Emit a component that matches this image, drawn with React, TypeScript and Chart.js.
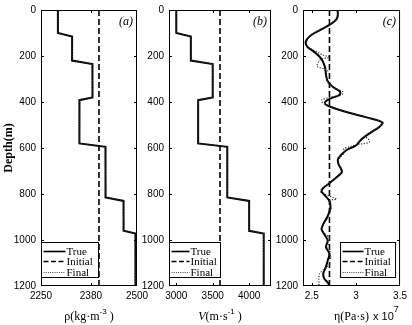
import React, { useEffect, useRef } from "react";
import { Chart, registerables } from "chart.js";

Chart.register(...registerables);

const W = 412;
const H = 325;

const SERIF = '"Liberation Serif", "Times New Roman", serif';
const SANS = '"Liberation Sans", Arial, sans-serif';

// ---------- data ----------
const depthTicks = [0, 200, 400, 600, 800, 1000, 1200];
const seriesNames = ["True", "Initial", "Final"];

// layered (step) models, depth in m
const stepDepths = [0, 100, 115, 220, 235, 380, 392, 580, 595, 815, 830, 960, 972, 1200];
const rhoTrue = [2294, 2294, 2331, 2331, 2384, 2384, 2350, 2350, 2418, 2418, 2465, 2465, 2496, 2496];
const rhoFinal = [2293, 2294, 2330, 2332, 2383, 2385, 2351, 2350, 2417, 2419, 2464, 2466, 2495, 2496];
const rhoInitial = 2401;
const rhoTicks = [2250, 2380, 2500];

const velTrue = [3000, 3000, 3200, 3200, 3500, 3500, 3300, 3300, 3700, 3700, 4000, 4000, 4200, 4200];
const velFinal = [2998, 3001, 3199, 3202, 3498, 3502, 3301, 3300, 3698, 3702, 3998, 4002, 4198, 4201];
const velInitial = 3600;
const velTicks = [3000, 3500, 4000];

// viscosity (x 10^7 Pa·s)
const etaDepths = [0, 20, 40, 60, 80, 100, 120, 140, 160, 180, 200, 220, 250, 280, 310, 335, 355, 370, 385, 400, 412, 425, 446, 467, 489, 510, 530, 560, 589, 610, 646, 667, 690, 705, 724, 753, 774, 789, 803, 831, 860, 896, 931, 953, 974, 1003, 1031, 1060, 1089, 1117, 1146, 1167, 1185, 1200];
const etaTrue = [2.79, 2.795, 2.78, 2.72, 2.63, 2.53, 2.46, 2.43, 2.45, 2.52, 2.58, 2.62, 2.65, 2.66, 2.68, 2.74, 2.82, 2.81, 2.71, 2.65, 2.66, 2.74, 2.91, 3.12, 3.3, 3.26, 3.18, 3.07, 3.0, 2.89, 2.8, 2.8, 2.83, 2.84, 2.79, 2.7, 2.63, 2.61, 2.64, 2.7, 2.71, 2.68, 2.63, 2.61, 2.64, 2.68, 2.66, 2.7, 2.68, 2.66, 2.63, 2.64, 2.68, 2.7];
const etaFinalDepths = [0, 20, 40, 60, 80, 100, 115, 140, 160, 180, 195, 205, 215, 230, 245, 255, 265, 280, 300, 320, 340, 355, 368, 380, 392, 402, 412, 425, 446, 467, 489, 510, 530, 550, 560, 575, 585, 595, 605, 620, 646, 667, 690, 705, 724, 753, 774, 790, 803, 815, 822, 830, 860, 880, 896, 915, 931, 953, 974, 990, 1003, 1020, 1031, 1045, 1060, 1075, 1089, 1105, 1117, 1130, 1146, 1165, 1185, 1200];
const etaFinal = [2.8, 2.8, 2.78, 2.71, 2.62, 2.52, 2.47, 2.44, 2.46, 2.55, 2.62, 2.7, 2.6, 2.57, 2.56, 2.63, 2.68, 2.66, 2.67, 2.69, 2.76, 2.85, 2.84, 2.7, 2.61, 2.62, 2.67, 2.75, 2.92, 3.12, 3.3, 3.25, 3.17, 3.1, 3.14, 3.15, 3.02, 2.92, 2.86, 2.87, 2.81, 2.8, 2.83, 2.85, 2.79, 2.7, 2.62, 2.6, 2.66, 2.74, 2.78, 2.7, 2.72, 2.7, 2.69, 2.66, 2.63, 2.61, 2.65, 2.7, 2.67, 2.69, 2.66, 2.71, 2.69, 2.72, 2.69, 2.71, 2.67, 2.63, 2.59, 2.58, 2.58, 2.58];
const etaInitial = 2.7;
const etaTicks = [2.5, 3, 3.5];

// ---------- helpers ----------
type Part = { t: string; font: string; dy?: number };

function partsWidth(ctx: CanvasRenderingContext2D, parts: Part[]) {
  let total = 0;
  for (const p of parts) {
    ctx.font = p.font;
    total += ctx.measureText(p.t).width;
  }
  return total;
}

function drawParts(ctx: CanvasRenderingContext2D, parts: Part[], x: number, y: number) {
  let cx = x;
  ctx.textAlign = "left";
  ctx.textBaseline = "alphabetic";
  for (const p of parts) {
    ctx.font = p.font;
    ctx.fillText(p.t, cx, y + (p.dy || 0));
    cx += ctx.measureText(p.t).width;
  }
  return cx;
}

function toPoints(xs: number[], ys: number[]) {
  return xs.map((v, i) => ({ x: v, y: ys[i] }));
}

interface PanelSpec {
  id: string;
  xMin: number;
  xMax: number;
  xTicks: number[];
  padLeft: number;
  yWidth: number;
  padRight: number;
  tag: string;
  xTitle: Part[];
  xExtra?: Part[];
  yTitle?: string;
  legend: { side: "left" | "right"; width: number; sample: number };
  trueData: { x: number; y: number }[];
  finalData: { x: number; y: number }[];
  initial: number;
  tension: number;
}

const panels: PanelSpec[] = [
  {
    id: "a",
    xMin: 2250,
    xMax: 2500,
    xTicks: rhoTicks,
    padLeft: 0,
    yWidth: 41,
    padRight: W - 137,
    tag: "(a)",
    xTitle: [
      { t: "ρ(kg·m", font: `12px ${SERIF}` },
      { t: "-3", font: `8px ${SANS}`, dy: -6 },
      { t: " )", font: `12px ${SERIF}` },
    ],
    yTitle: "Depth(m)",
    legend: { side: "left", width: 57, sample: 22 },
    trueData: toPoints(rhoTrue, stepDepths),
    finalData: toPoints(rhoFinal, stepDepths),
    initial: rhoInitial,
    tension: 0,
  },
  {
    id: "b",
    xMin: 2900,
    xMax: 4300,
    xTicks: velTicks,
    padLeft: 140,
    yWidth: 29,
    padRight: W - 271,
    tag: "(b)",
    xTitle: [
      { t: "V", font: `italic 12px ${SERIF}` },
      { t: "(m·s", font: `12px ${SERIF}` },
      { t: "-1", font: `8px ${SANS}`, dy: -6 },
      { t: " )", font: `12px ${SERIF}` },
    ],
    legend: { side: "left", width: 51, sample: 18 },
    trueData: toPoints(velTrue, stepDepths),
    finalData: toPoints(velFinal, stepDepths),
    initial: velInitial,
    tension: 0,
  },
  {
    id: "c",
    xMin: 2.4,
    xMax: 3.5,
    xTicks: etaTicks,
    padLeft: 274,
    yWidth: 29,
    padRight: W - 402,
    tag: "(c)",
    xTitle: [{ t: "η(Pa·s)", font: `12px ${SERIF}` }],
    xExtra: [
      { t: "x 10", font: `11px ${SANS}` },
      { t: "7", font: `9px ${SANS}`, dy: -8 },
    ],
    legend: { side: "right", width: 55, sample: 21 },
    trueData: toPoints(etaTrue, etaDepths),
    finalData: toPoints(etaFinal, etaFinalDepths),
    initial: etaInitial,
    tension: 0.35,
  },
];

function makeDecor(spec: PanelSpec) {
  return {
    id: "decor_" + spec.id,
    afterDraw(chart: any) {
      const ctx: CanvasRenderingContext2D = chart.ctx;
      const a = chart.chartArea;
      const xs = chart.scales.x;
      const ys = chart.scales.y;
      ctx.save();
      ctx.setLineDash([]);
      ctx.strokeStyle = "#000";
      ctx.fillStyle = "#000";
      ctx.lineWidth = 1;

      // inward tick marks
      ctx.beginPath();
      for (const v of spec.xTicks) {
        const px = Math.round(xs.getPixelForValue(v)) + 0.5;
        if (px - a.left < 2 || a.right - px < 2) continue;
        ctx.moveTo(px, a.bottom);
        ctx.lineTo(px, a.bottom - 3);
        ctx.moveTo(px, a.top);
        ctx.lineTo(px, a.top + 3);
      }
      for (const v of depthTicks) {
        const py = Math.round(ys.getPixelForValue(v)) + 0.5;
        if (py - a.top < 2 || a.bottom - py < 2) continue;
        ctx.moveTo(a.left, py);
        ctx.lineTo(a.left + 3, py);
        ctx.moveTo(a.right, py);
        ctx.lineTo(a.right - 3, py);
      }
      ctx.stroke();

      // frame
      ctx.strokeRect(a.left + 0.5, a.top + 0.5, a.right - a.left - 1, a.bottom - a.top - 1);

      // panel tag
      ctx.font = `italic 12px ${SERIF}`;
      ctx.textAlign = "right";
      ctx.textBaseline = "alphabetic";
      ctx.fillText(spec.tag, a.right - 4, a.top + 15);

      // legend
      const lg = spec.legend;
      const bh = 35;
      const bx = lg.side === "left" ? a.left + 0.5 : a.right - 4.5 - lg.width;
      const by = a.bottom - 8.5 - bh;
      ctx.fillStyle = "#fff";
      ctx.fillRect(bx, by, lg.width, bh);
      ctx.strokeStyle = "#000";
      ctx.strokeRect(bx, by, lg.width, bh);
      const rows = [by + 8, by + 18.5, by + 29];
      const styles = [
        { w: 1.6, dash: [] as number[], c: "#000" },
        { w: 1.3, dash: [5, 2.5], c: "#000" },
        { w: 1, dash: [1, 1.2], c: "#444" },
      ];
      seriesNames.forEach((name, i) => {
        const yy = Math.round(rows[i]) + 0.5;
        ctx.beginPath();
        ctx.setLineDash(styles[i].dash);
        ctx.lineWidth = styles[i].w;
        ctx.strokeStyle = styles[i].c;
        ctx.moveTo(bx + 2, yy);
        ctx.lineTo(bx + 2 + lg.sample, yy);
        ctx.stroke();
        ctx.setLineDash([]);
        ctx.fillStyle = "#000";
        ctx.font = `11px ${SERIF}`;
        ctx.textAlign = "left";
        ctx.textBaseline = "middle";
        ctx.fillText(name, bx + 3 + lg.sample, yy + 0.5);
      });

      // x title
      ctx.fillStyle = "#000";
      const cx = (a.left + a.right) / 2;
      const tw = partsWidth(ctx, spec.xTitle);
      const end = drawParts(ctx, spec.xTitle, cx - tw / 2, 320);
      if (spec.xExtra) {
        drawParts(ctx, spec.xExtra, end + 4, 320);
      }

      // y title
      if (spec.yTitle) {
        ctx.save();
        ctx.translate(9, (a.top + a.bottom) / 2);
        ctx.rotate(-Math.PI / 2);
        ctx.font = `bold 12px ${SERIF}`;
        ctx.textAlign = "center";
        ctx.textBaseline = "middle";
        ctx.fillText(spec.yTitle, 0, 0);
        ctx.restore();
      }
      ctx.restore();
    },
  };
}

function buildConfig(spec: PanelSpec): any {
  const tickFont = { family: SANS, size: 10, lineHeight: 1 };
  return {
    type: "scatter",
    data: {
      datasets: [
        {
          label: seriesNames[0],
          data: spec.trueData,
          borderColor: "#000",
          backgroundColor: "#000",
          borderWidth: 2,
          showLine: true,
          pointRadius: 0,
          tension: spec.tension,
          order: 2,
        },
        {
          label: seriesNames[1],
          data: [
            { x: spec.initial, y: 0 },
            { x: spec.initial, y: 1200 },
          ],
          borderColor: "#000",
          backgroundColor: "#000",
          borderWidth: 1.6,
          borderDash: [6, 3],
          showLine: true,
          pointRadius: 0,
          order: 1,
        },
        {
          label: seriesNames[2],
          data: spec.finalData,
          borderColor: "#333",
          backgroundColor: "#333",
          borderWidth: 1.2,
          borderDash: [1.2, 1.5],
          showLine: true,
          pointRadius: 0,
          tension: spec.tension,
          order: 0,
        },
      ],
    },
    options: {
      animation: false,
      responsive: false,
      devicePixelRatio: 1,
      events: [],
      layout: { padding: { left: spec.padLeft, right: spec.padRight, top: 6, bottom: 0 } },
      plugins: {
        legend: { display: false },
        tooltip: { enabled: false },
        title: { display: false },
      },
      scales: {
        x: {
          type: "linear",
          position: "bottom",
          min: spec.xMin,
          max: spec.xMax,
          afterBuildTicks: (s: any) => {
            s.ticks = spec.xTicks.map((v) => ({ value: v }));
          },
          afterFit: (s: any) => {
            s.height = 39;
          },
          ticks: {
            font: tickFont,
            color: "#000",
            padding: 5,
            maxRotation: 0,
            autoSkip: false,
            callback: (v: any) => String(v),
          },
          grid: { display: false, drawTicks: false },
          border: { display: false },
        },
        y: {
          type: "linear",
          position: "left",
          min: 0,
          max: 1200,
          reverse: true,
          afterBuildTicks: (s: any) => {
            s.ticks = depthTicks.map((v) => ({ value: v }));
          },
          afterFit: (s: any) => {
            s.width = spec.yWidth;
          },
          ticks: {
            font: tickFont,
            color: "#000",
            padding: 5,
            autoSkip: false,
            callback: (v: any) => String(v),
          },
          grid: { display: false, drawTicks: false },
          border: { display: false },
        },
      },
    },
    plugins: [makeDecor(spec)],
  };
}

function Panel({ spec }: { spec: PanelSpec }) {
  const ref = useRef<HTMLCanvasElement | null>(null);
  useEffect(() => {
    if (!ref.current) return;
    const chart = new Chart(ref.current, buildConfig(spec));
    return () => chart.destroy();
  }, [spec]);
  return (
    <canvas
      ref={ref}
      width={W}
      height={H}
      style={{ position: "absolute", left: 0, top: 0, width: W, height: H }}
    />
  );
}

export default function App() {
  return (
    <div style={{ position: "absolute", left: 0, top: 0, width: W, height: H, background: "#fff" }}>
      {panels.map((p) => (
        <Panel key={p.id} spec={p} />
      ))}
    </div>
  );
}
